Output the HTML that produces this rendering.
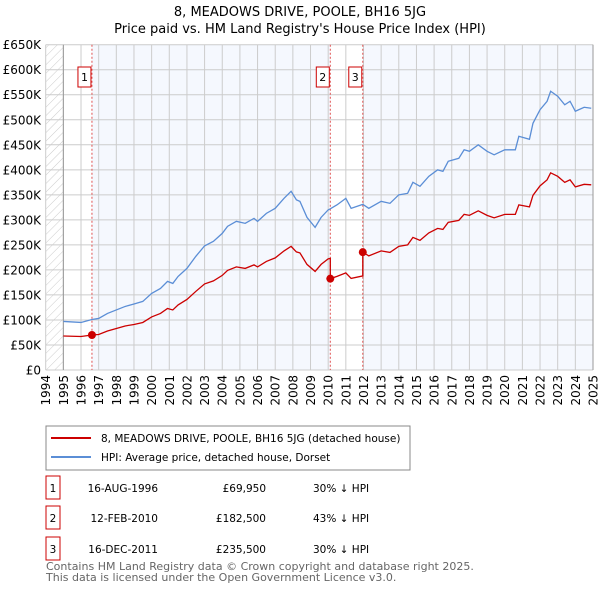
<!DOCTYPE html>
<html><head><meta charset="utf-8"><style>
body{margin:0;background:#fff;font-family:"Liberation Sans","DejaVu Sans",sans-serif;}
svg text{font-family:"DejaVu Sans","Liberation Sans",sans-serif;}
</style></head><body>
<svg id="chart" width="600" height="590" viewBox="0 0 600 590" xmlns="http://www.w3.org/2000/svg">
<defs>
<pattern id="hatch" patternUnits="userSpaceOnUse" width="6" height="6" patternTransform="rotate(45)">
<line x1="0" y1="0" x2="0" y2="6" stroke="#ccc" stroke-width="1"/></pattern>
</defs>
<text x="300" y="16" text-anchor="middle" font-size="13">8, MEADOWS DRIVE, POOLE, BH16 5JG</text>
<text x="300" y="33" text-anchor="middle" font-size="13">Price paid vs. HM Land Registry's House Price Index (HPI)</text>
<g id="plot"></g>
<g>
<rect x="46" y="426" width="364" height="44" fill="#fff" stroke="#888"/>
<line x1="51" y1="438" x2="91" y2="438" stroke="#cc0000" stroke-width="2"/>
<text x="101" y="442" font-size="10.5">8, MEADOWS DRIVE, POOLE, BH16 5JG (detached house)</text>
<line x1="51" y1="457" x2="91" y2="457" stroke="#5b8ed6" stroke-width="2"/>
<text x="101" y="461" font-size="10.5">HPI: Average price, detached house, Dorset</text>
</g>
<g id="table"></g>
<text x="46" y="570" font-size="11" fill="#666">Contains HM Land Registry data © Crown copyright and database right 2025.</text>
<text x="46" y="581" font-size="11" fill="#666">This data is licensed under the Open Government Licence v3.0.</text>
</svg>
<script>
const hpiYears=[1995,1996,1996.62,1997,1997.5,1998,1998.5,1999,1999.5,2000,2000.5,2000.9,2001.2,2001.5,2002,2002.5,2003,2003.5,2004,2004.3,2004.8,2005.3,2005.8,2006,2006.5,2007,2007.5,2007.9,2008.2,2008.4,2008.8,2009.26,2009.6,2010,2010.12,2010.5,2011,2011.3,2011.96,2012.3,2013,2013.5,2014,2014.5,2014.8,2015.2,2015.7,2016.2,2016.5,2016.8,2017.4,2017.7,2018,2018.5,2019,2019.4,2020,2020.6,2020.8,2021.4,2021.6,2022,2022.4,2022.6,2023,2023.4,2023.7,2024,2024.5,2024.9];
const hpiValues=[97,95,101,103,113,120,127,132,137,153,163,177,173,187,203,227,248,257,273,287,297,293,303,297,313,323,343,357,340,337,305,285,305,320,322,330,343,323,331,323,337,333,350,353,375,367,387,400,397,417,423,440,437,450,437,430,440,440,467,461,493,520,537,557,547,530,537,517,525,523];
const redYears=[1995,1996,1996.62,1997,1997.5,1998,1998.5,1999,1999.5,2000,2000.5,2000.9,2001.2,2001.5,2002,2002.5,2003,2003.5,2004,2004.3,2004.8,2005.3,2005.8,2006,2006.5,2007,2007.5,2007.9,2008.2,2008.4,2008.8,2009.26,2009.6,2010,2010.12,2010.12,2010.5,2011,2011.3,2011.96,2011.96,2012.3,2013,2013.5,2014,2014.5,2014.8,2015.2,2015.7,2016.2,2016.5,2016.8,2017.4,2017.7,2018,2018.5,2019,2019.4,2020,2020.6,2020.8,2021.4,2021.6,2022,2022.4,2022.6,2023,2023.4,2023.7,2024,2024.5,2024.9];
const redValues=[68,67,70,71,78,83,88,91,95,106,113,123,120,130,141,157,172,178,189,199,206,203,210,206,217,224,238,247,236,234,211,197,211,222,223,182.5,187,194,183,188,235.5,228,238,235,247,250,265,259,274,283,281,295,299,311,309,318,309,304,311,311,330,326,349,368,380,394,387,375,380,366,371,370];
const saleYears=[1996.62,2010.12,2011.96];
const saleValues=[69.95,182.5,235.5];
const saleLabels=["1","2","3"];
const saleDates=["16-AUG-1996","12-FEB-2010","16-DEC-2011"];
const salePrices=["£69,950","£182,500","£235,500"];
const saleDiffs=["30% ↓ HPI","43% ↓ HPI","30% ↓ HPI"];
const yTicks=[0,50,100,150,200,250,300,350,400,450,500,550,600,650];
const yTickLabels=["£0","£50K","£100K","£150K","£200K","£250K","£300K","£350K","£400K","£450K","£500K","£550K","£600K","£650K"];
const xTicks=[1994,1995,1996,1997,1998,1999,2000,2001,2002,2003,2004,2005,2006,2007,2008,2009,2010,2011,2012,2013,2014,2015,2016,2017,2018,2019,2020,2021,2022,2023,2024,2025];

const NS="http://www.w3.org/2000/svg";
const L=45.7,R=593,T=44.7,B=370;
const x=v=>L+(v-1994)/(2025-1994)*(R-L);
const y=v=>B-v/650*(B-T);
const plot=document.getElementById('plot');
function mk(tag,attrs,parent){const e=document.createElementNS(NS,tag);for(const k in attrs)e.setAttribute(k,attrs[k]);(parent||plot).appendChild(e);return e;}
let e;
e=mk('rect',{x:L,y:T,width:R-L,height:B-T,fill:'#fff'});


e=mk('rect',{x:L,y:T,width:x(1995)-L,height:B-T,fill:'url(#hatch)'});


e=mk('rect',{x:x(saleYears[0]),y:T,width:x(saleYears[1])-x(saleYears[0]),height:B-T,fill:'#eef3fd',opacity:0.6});


e=mk('rect',{x:x(saleYears[2]),y:T,width:R-x(saleYears[2]),height:B-T,fill:'#eef3fd',opacity:0.6});


yTicks.forEach((v,i)=>{
 e=mk('line',{x1:L,x2:R,y1:y(v),y2:y(v),stroke:'#ccc','stroke-width':1});
 
 
 e=mk('text',{x:41,y:y(v)+4.5,'text-anchor':'end','font-size':12});
 e.textContent=yTickLabels[i];
 
 
});
xTicks.forEach(v=>{
 e=mk('line',{x1:x(v),x2:x(v),y1:T,y2:B,stroke:'#ccc','stroke-width':1});
 
 
 e=mk('text',{x:0,y:0,'text-anchor':'end','font-size':12,transform:`translate(${x(v)+4.5},${B+5}) rotate(-90)`});
 e.textContent=v;
 
 
});
e=mk('line',{x1:x(1995),x2:x(1995),y1:T,y2:B,stroke:'#999'});


e=mk('line',{x1:R,x2:R,y1:T,y2:B,stroke:'#999'});


saleYears.forEach((s,i)=>{
 e=mk('line',{x1:x(s),x2:x(s),y1:T,y2:B,stroke:'#e05050','stroke-dasharray':'2,2','stroke-width':1});
 
 
 e=mk('rect',{x:x(s)-14,y:67,width:13,height:20,fill:'#fff',stroke:'#cc0000'});
 
 
 e=mk('text',{x:x(s)-7.5,y:81,'text-anchor':'middle','font-size':11});
 e.textContent=saleLabels[i];
 
 
});
e=mk('polyline',{points:hpiYears.map((t,i)=>x(t)+','+y(hpiValues[i])).join(' '),fill:'none',stroke:'#5b8ed6','stroke-width':1.3});


e=mk('polyline',{points:redYears.map((t,i)=>x(t)+','+y(redValues[i])).join(' '),fill:'none',stroke:'#cc0000','stroke-width':1.3});


saleYears.forEach((s,i)=>{
 e=mk('circle',{cx:x(s),cy:y(saleValues[i]),r:4,fill:'#cc0000'});
 
 
});
const tb=document.getElementById('table');
const rowY=[484,514,545];
saleLabels.forEach((lab,i)=>{
 const r=rowY[i];
 e=mk('rect',{x:46,y:r-8,width:14,height:23,fill:'#fff',stroke:'#cc0000'},tb);
 
 
 e=mk('text',{x:53,y:r+8,'text-anchor':'middle','font-size':10.5},tb);
 e.textContent=lab;
 
 
 e=mk('text',{x:158,y:r+8,'text-anchor':'end','font-size':10.5},tb);
 e.textContent=saleDates[i];
 
 
 e=mk('text',{x:266,y:r+8,'text-anchor':'end','font-size':10.5},tb);
 e.textContent=salePrices[i];
 
 
 e=mk('text',{x:313,y:r+8,'font-size':10.5},tb);
 e.textContent=saleDiffs[i];
 
 
});
</script>
</body></html>
